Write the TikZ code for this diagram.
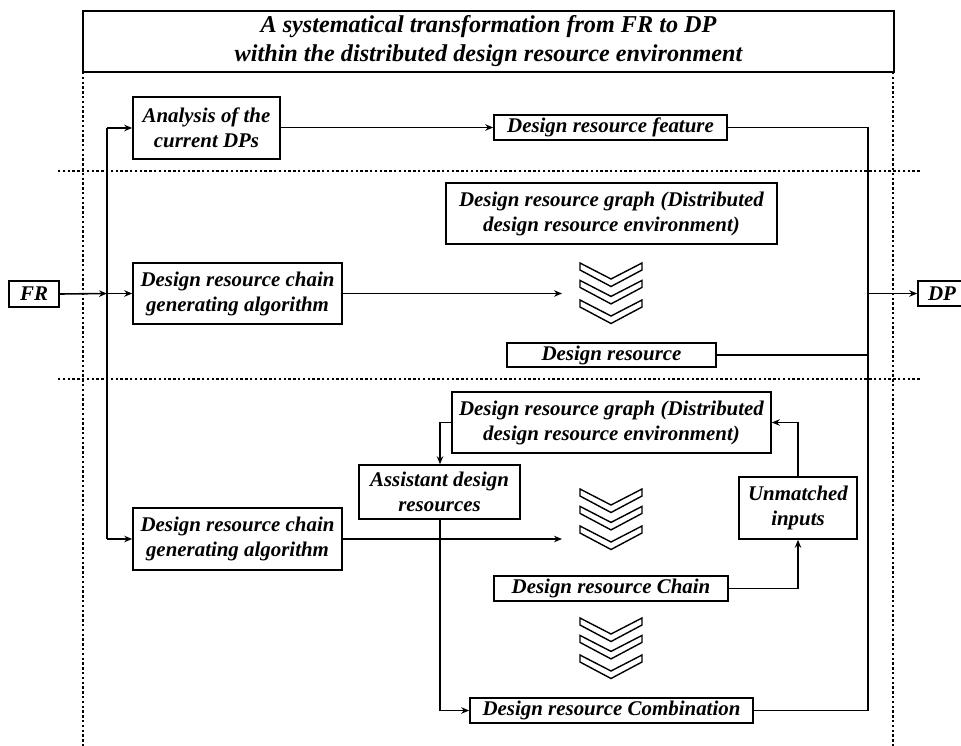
\documentclass[tikz,border=0pt]{standalone}
\usepackage{fontspec}
\setmainfont{Liberation Serif}
\usetikzlibrary{arrows.meta}
\tikzset{
  box/.style={draw, line width=1.6pt, inner sep=0pt, align=center,
    font=\fontsize{20.9}{25}\selectfont\bfseries\itshape},
  conn/.style={line width=1.6pt},
  arr/.style={conn, -{Stealth[length=8pt,width=6.5pt]}},
  dotline/.style={line width=2pt, dash pattern=on 2.4pt off 2.4pt},
  chev/.style={line width=1.4pt, line join=miter},
}
\begin{document}
\begin{tikzpicture}[x=1pt,y=-1pt]
\clip (0,0) rectangle (961,746);
\fill[white] (0,0) rectangle (961,746);
% title
\node[draw, line width=2.4pt, minimum width=811pt, minimum height=61pt, align=center,
  font=\fontsize{24.2}{29}\selectfont\bfseries\itshape] (title) at (488.5,41.5)
  {A systematical transformation from FR to DP\\within the distributed design resource environment};
% frames
\coordinate (vl1) at (83,72);  \coordinate (vl2) at (83,746);
\coordinate (vr1) at (893,72); \coordinate (vr2) at (893,746);
\coordinate (h1a) at (58,171); \coordinate (h1b) at (920,171);
\coordinate (h2a) at (58,379); \coordinate (h2b) at (920,379);
\draw[dotline] (vl1) -- (vl2);
\draw[dotline] (vr1) -- (vr2);
\draw[dotline] (h1a) -- (h1b);
\draw[dotline] (h2a) -- (h2b);
% nodes
\node[box, minimum width=147pt, minimum height=62pt] (ana) at (206.5,128) {Analysis of the\\current DPs};
\node[box, minimum width=233pt, minimum height=25pt] (feat) at (610.5,127.5) {Design resource feature};
\node[box, minimum width=331pt, minimum height=61pt] (g1) at (611.5,213.5) {Design resource graph (Distributed\\design resource environment)};
\node[box, minimum width=209pt, minimum height=61pt] (alg1) at (237.5,293.5) {Design resource chain\\generating algorithm};
\node[box, minimum width=209pt, minimum height=24pt] (dr) at (611.5,355) {Design resource};
\node[box, minimum width=319pt, minimum height=61pt] (g2) at (611.5,422.5) {Design resource graph (Distributed\\design resource environment)};
\node[box, minimum width=161pt, minimum height=54pt] (asst) at (439.5,492) {Assistant design\\resources};
\node[box, minimum width=209pt, minimum height=62pt] (alg2) at (237.5,539) {Design resource chain\\generating algorithm};
\node[box, minimum width=118pt, minimum height=62pt] (unm) at (798,508) {Unmatched\\inputs};
\node[box, minimum width=234pt, minimum height=25pt] (chain) at (611,588.5) {Design resource Chain};
\node[box, minimum width=283pt, minimum height=25pt] (comb) at (611.5,710.5) {Design resource Combination};
\node[box, minimum width=50pt, minimum height=26pt] (fr) at (34,294) {FR};
\node[box, minimum width=48pt, minimum height=25pt] (dp) at (942,293.5) {DP};
% chevrons
\foreach \t in {263,489,618}{
  \foreach \o in {0,17.4,37}{
    \draw[chev] (580,\t+\o) -- (611,\t+\o+16) -- (642,\t+\o) -- (642,\t+\o+7)
      -- (611,\t+\o+23.5) -- (580,\t+\o+7) -- cycle;
  }
}
% connectors
\coordinate (bus1) at (107,128);
\coordinate (bus2) at (107,293.5);
\coordinate (bus3) at (107,539);
\coordinate (c1) at (562,293.5);
\coordinate (c2) at (562,539);
\coordinate (rtop) at (868,127.5);
\coordinate (rdr) at (868,355);
\coordinate (rdp) at (868,293.5);
\coordinate (rbot) at (868,710.5);
\coordinate (ga) at (440,422.5);
\coordinate (ab) at (440,710.5);
\coordinate (cu) at (798,588.5);
\coordinate (ug) at (798,422.5);
\draw[conn] (bus1) -- (bus3);
\draw[arr] (fr.east) -- (bus2);
\draw[arr] (bus2) -- (alg1.west);
\draw[arr] (bus1) -- (ana.west);
\draw[arr] (bus3) -- (alg2.west);
\draw[arr] (ana.east |- feat.west) -- (feat.west);
\draw[conn] (feat.east) -- (rtop) -- (rbot) -- (comb.east);
\draw[conn] (dr.east) -- (rdr);
\draw[arr] (rdp) -- (dp.west);
\draw[arr] (alg1.east) -- (c1);
\draw[arr] (alg2.east) -- (c2);
\draw[arr] (g2.west) -- (ga) -- (asst.north -| ga);
\draw[arr] (asst.south -| ab) -- (ab) -- (comb.west);
\draw[arr] (chain.east) -- (cu) -- (unm.south);
\draw[arr] (unm.north) -- (ug) -- (g2.east);
\end{tikzpicture}
\end{document}
